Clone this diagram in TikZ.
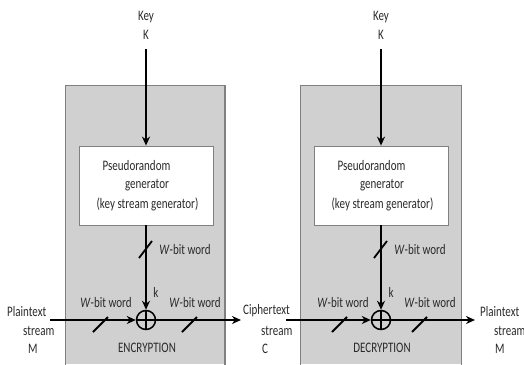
\documentclass[tikz,border=0pt]{standalone}
\usepackage{fontspec}
\setmainfont{Carlito}[FakeStretch=0.76]
\usetikzlibrary{arrows.meta}
\definecolor{panelgray}{HTML}{D0D0D0}
\definecolor{panelborder}{HTML}{808080}
\definecolor{txt}{HTML}{2A2A2A}
\tikzset{
  lbl/.style={font=\fontsize{14.5}{17}\selectfont, inner sep=0pt, text=txt},
  arr/.style={line width=1.8pt, -{Stealth[length=9pt,width=8pt]}},
  slashmark/.style={line width=1.8pt},
  panelfill/.style={fill=panelgray},
  panelline/.style={draw=panelborder, line width=1.3pt},
  genbox/.style={draw=panelborder, fill=white, line width=0.8pt, minimum width=134pt, minimum height=79pt, inner sep=0pt},
  xor/.style={circle, draw, line width=1.5pt, minimum size=19pt, inner sep=0pt},
}
\begin{document}
\begin{tikzpicture}[x=1pt,y=-1pt]
\useasboundingbox (0,0) rectangle (524,364);
% panels
\fill[panelfill] (65.5,85.5) rectangle (225,364);
\draw[panelline] (65.5,366) -- (65.5,85.5) -- (225,85.5) -- (225,366);
\fill[panelfill] (300.7,85.5) rectangle (461.7,364);
\draw[panelline] (300.7,366) -- (300.7,85.5) -- (461.7,85.5) -- (461.7,366);
% generator boxes
\node[genbox] (genE) at (146,185.5) {};
\node[genbox] (genD) at (381,185.5) {};
\node[lbl] at (136.5,166) {Pseudorandom};
\node[lbl] at (147,185) {generator};
\node[lbl] at (147.5,204) {(key stream generator)};
\node[lbl] at (371.5,166) {Pseudorandom};
\node[lbl] at (382,185) {generator};
\node[lbl] at (382.5,204) {(key stream generator)};
% keys
\node[lbl] (keyE) at (146,17) {Key};
\node[lbl] (kE) at (146,35) {K};
\node[lbl] (keyD) at (381,17) {Key};
\node[lbl] (kD) at (381,35) {K};
\coordinate (keyEs) at (146,49);
\coordinate (keyDs) at (381,49);
\draw[arr] (keyEs) -- (genE.north);
\draw[arr] (keyDs) -- (genD.north);
% xor
\node[xor] (xorE) at (146,320) {};
\draw[line width=1.2pt] (xorE.north) -- (xorE.south) (xorE.west) -- (xorE.east);
\node[xor] (xorD) at (381,320) {};
\draw[line width=1.2pt] (xorD.north) -- (xorD.south) (xorD.west) -- (xorD.east);
\draw[arr] (genE.south) -- (xorE.north);
\draw[arr] (genD.south) -- (xorD.north);
% horizontal flows
\coordinate (inE) at (50,320);
\coordinate (outE) at (241,320);
\coordinate (inD) at (286,320);
\coordinate (outD) at (475,320);
\draw[arr] (inE) -- (xorE.west);
\draw[arr] (xorE.east) -- (outE);
\draw[arr] (inD) -- (xorD.west);
\draw[arr] (xorD.east) -- (outD);
% slashes
\draw[slashmark] (139,258) -- (152,241);
\draw[slashmark] (93,332) -- (108,317);
\draw[slashmark] (182,332) -- (197,317);
\draw[slashmark] (374,258) -- (387,241);
\draw[slashmark] (332,332) -- (347,317);
\draw[slashmark] (412,332) -- (427,317);
% word labels
\node[lbl] at (185,250) {\textit{W}-bit word};
\node[lbl] at (106,303) {\textit{W}-bit word};
\node[lbl] at (195,303) {\textit{W}-bit word};
\node[lbl] at (420,250) {\textit{W}-bit word};
\node[lbl] at (343,303) {\textit{W}-bit word};
\node[lbl] at (430,303) {\textit{W}-bit word};
\node[lbl] at (156,292) {k};
\node[lbl] at (391,292) {k};
\node[lbl] at (147,348) {ENCRYPTION};
\node[lbl] at (382,348) {DECRYPTION};
% stream labels
\node[lbl, anchor=west] at (7,312) {Plaintext};
\node[lbl, anchor=west] at (23,331) {stream};
\node[lbl, anchor=west] at (28,349) {M};
\node[lbl, anchor=west] at (243,311) {Ciphertext};
\node[lbl, anchor=west] at (261,331) {stream};
\node[lbl, anchor=west] at (262,349) {C};
\node[lbl, anchor=west] at (480,312) {Plaintext};
\node[lbl, anchor=west] at (494,331) {stream};
\node[lbl, anchor=west] at (495,349) {M};
\end{tikzpicture}
\end{document}
